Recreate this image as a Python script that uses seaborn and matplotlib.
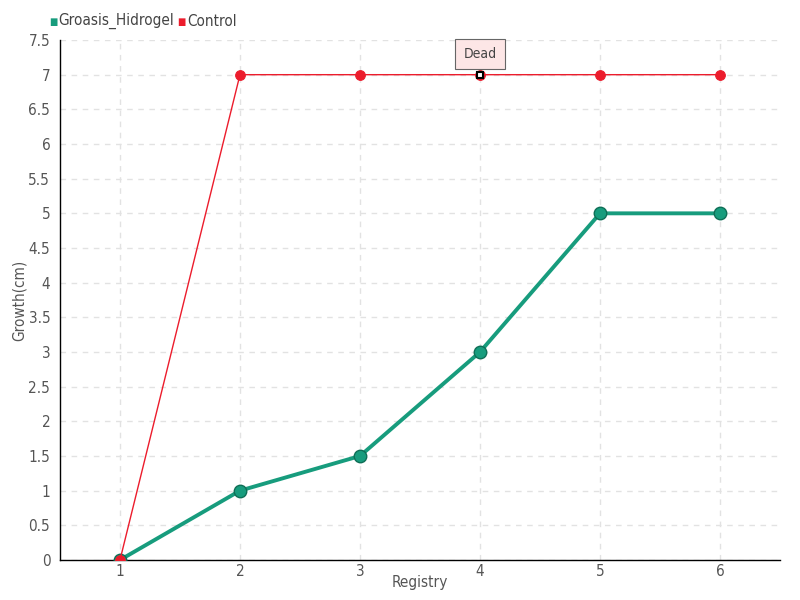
import numpy as np
import pandas as pd
import matplotlib
matplotlib.use('Agg')
import matplotlib.pyplot as plt
import seaborn as sns

registry = [1, 2, 3, 4, 5, 6]
groasis = [0, 1, 1.5, 3, 5, 5]
control = [0, 7, 7, 7, 7, 7]
series_names = ['Groasis_Hidrogel', 'Control']
colors = {'Groasis_Hidrogel': '#179c7d', 'Control': '#ec1c2c'}
y_ticks = [0, 0.5, 1, 1.5, 2, 2.5, 3, 3.5, 4, 4.5, 5, 5.5, 6, 6.5, 7, 7.5]
note_label = 'Dead'
note_x, note_y = 4, 7

df = pd.DataFrame({
    'Registry': registry * 2,
    'Growth': groasis + control,
    'serie': [series_names[0]] * len(registry) + [series_names[1]] * len(registry),
})

sns.set_style('white')
plt.rcParams['font.family'] = ['DejaVu Sans']
plt.rcParams['font.stretch'] = 'condensed'

fig = plt.figure(figsize=(8, 6), dpi=100)
ax = fig.add_axes([0.075, 0.0667, 0.9, 0.8666])

ax.grid(True, color='#e2e2e2', linestyle=(0, (4, 4)), linewidth=1)
ax.set_axisbelow(True)

g = df[df['serie'] == 'Groasis_Hidrogel']
c = df[df['serie'] == 'Control']
sns.lineplot(data=g, x='Registry', y='Growth', ax=ax, color=colors['Groasis_Hidrogel'],
             linewidth=2.8, marker='o', markersize=9, markeredgecolor='#0f6e56',
             markeredgewidth=1, zorder=3, legend=False)
sns.lineplot(data=c, x='Registry', y='Growth', ax=ax, color=colors['Control'],
             linewidth=1, marker='o', markersize=7, markeredgecolor=colors['Control'],
             zorder=4, legend=False)

# highlighted point
ax.plot([note_x], [note_y], marker='s', markersize=5, markerfacecolor='white',
        markeredgecolor='black', markeredgewidth=1.5, zorder=6)
ax.annotate(note_label, xy=(note_x, note_y), xytext=(0, 15), textcoords='offset points',
            ha='center', va='center', fontsize=10, color='#444444',
            bbox=dict(boxstyle='square,pad=0.6', fc='#fde6e6', ec='#666666', lw=0.8),
            zorder=7)

ax.set_xlim(0.5, 6.5)
ax.set_ylim(0, 7.5)
ax.set_xticks(registry)
ax.set_xticklabels([str(r) for r in registry])
ax.set_yticks(y_ticks)
ax.set_yticklabels([('%g' % v) for v in y_ticks])
ax.tick_params(axis='both', labelsize=11, labelcolor='#555555', length=5, width=1,
               direction='out', color='black', pad=2)
ax.tick_params(axis='x', pad=-1, length=4)

for s in ['top', 'right']:
    ax.spines[s].set_visible(False)
for s in ['left', 'bottom']:
    ax.spines[s].set_color('black')
    ax.spines[s].set_linewidth(1)

ax.set_xlabel('Registry', fontsize=11, color='#555555', labelpad=-3)
ax.set_ylabel('Growth(cm)', fontsize=11, color='#555555', labelpad=1)

# legend
fig.text(0.061, 0.963, '\u25a0', color=colors['Groasis_Hidrogel'], fontsize=7, va='center')
fig.text(0.073, 0.965, series_names[0], color='#444444', fontsize=11, va='center')
fig.text(0.222, 0.963, '\u25a0', color=colors['Control'], fontsize=7, va='center')
fig.text(0.234, 0.965, series_names[1], color='#444444', fontsize=11, va='center')

fig.savefig('out.png', dpi=100)
